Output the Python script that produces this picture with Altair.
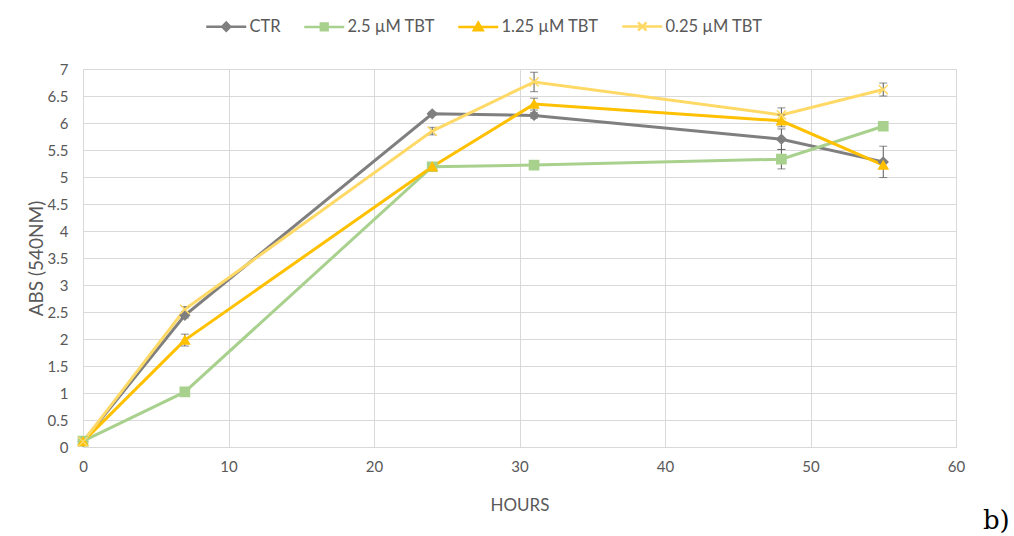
import altair as alt
import pandas as pd

hours = [0, 7, 24, 31, 48, 55]
series_names = ["CTR", "2.5 µM TBT", "1.25 µM TBT", "0.25 µM TBT"]

abs_ctr = [0.10, 2.44, 6.17, 6.14, 5.70, 5.28]
abs_25 = [0.11, 1.02, 5.19, 5.22, 5.33, 5.94]
abs_125 = [0.10, 1.98, 5.19, 6.35, 6.04, 5.22]
abs_025 = [0.10, 2.55, 5.85, 6.76, 6.15, 6.62]

err_ctr = [0.02, 0.05, 0.03, 0.05, 0.19, 0.29]
err_25 = [0.02, 0.03, 0.03, 0.03, 0.18, 0.03]
err_125 = [0.02, 0.11, 0.03, 0.11, 0.11, 0.05]
err_025 = [0.02, 0.05, 0.07, 0.18, 0.13, 0.12]

x_ticks = [0, 10, 20, 30, 40, 50, 60]
y_ticks = [0, 0.5, 1, 1.5, 2, 2.5, 3, 3.5, 4, 4.5, 5, 5.5, 6, 6.5, 7]

series_values = [abs_ctr, abs_25, abs_125, abs_025]
series_errors = [err_ctr, err_25, err_125, err_025]

colors = ["#7F7F7F", "#A9D18E", "#FFC000", "#FFD966"]
point_shapes = ["diamond", "square", "triangle-up", "M-1,-1L1,1M-1,1L1,-1"]
legend_shapes = [
    "M-5,0H5M0,-1L1,0L0,1L-1,0Z",
    "M-5,0H5M-0.85,-0.85H0.85V0.85H-0.85Z",
    "M-5,0H5M0,-1.05L1.1,0.85H-1.1Z",
    "M-5,0H5M-1.05,-1.05L1.05,1.05M-1.05,1.05L1.05,-1.05",
]

rows = []
for i, (name, vals, errs) in enumerate(zip(series_names, series_values, series_errors)):
    for h, v, e in zip(hours, vals, errs):
        rows.append({"hours": h, "abs": v, "lo": v - e, "hi": v + e,
                     "series": name, "order": i})
df = pd.DataFrame(rows)

FONT = "Lato"
TXT = "#595959"

x_axis = alt.Axis(values=x_ticks, title="HOURS",
                  grid=True, gridColor="#D9D9D9", ticks=False,
                  domainColor="#D9D9D9", labelColor=TXT,
                  labelFont=FONT, labelFontSize=15, labelPadding=12,
                  labelFlush=False, labelOverlap=False,
                  titleFont=FONT, titleFontSize=17, titleFontWeight="normal",
                  titleColor=TXT, titlePadding=23)
y_axis = alt.Axis(values=y_ticks, title="ABS (540NM)", format="~g",
                  grid=True, gridColor="#D9D9D9", ticks=False,
                  domain=False, labelColor=TXT,
                  labelFont=FONT, labelFontSize=15, labelPadding=15,
                  labelFlush=False, labelOverlap=False,
                  titleFont=FONT, titleFontSize=19, titleFontWeight="normal",
                  titleColor=TXT, titlePadding=1)
x_scale = alt.Scale(domain=[0, 60], nice=False)
y_scale = alt.Scale(domain=[0, 7], nice=False)


def X(field):
    return alt.X(field, scale=x_scale, axis=x_axis)


def Y(field):
    return alt.Y(field, scale=y_scale, axis=y_axis)


color_scale = alt.Scale(domain=series_names, range=colors)

base = alt.Chart(df)

lines = base.mark_line(strokeWidth=3).encode(
    x=X("hours:Q"), y=Y("abs:Q"),
    color=alt.Color("series:N", scale=color_scale, legend=None),
    order=alt.Order("hours:Q"),
)

err_rule = base.mark_rule(strokeWidth=1, color="#595959").encode(
    x=X("hours:Q"), y=Y("lo:Q"), y2="hi:Q")
err_lo = base.mark_tick(orient="horizontal", size=8, thickness=1, color="#595959").encode(
    x=X("hours:Q"), y=Y("lo:Q"))
err_hi = base.mark_tick(orient="horizontal", size=8, thickness=1, color="#595959").encode(
    x=X("hours:Q"), y=Y("hi:Q"))

points = base.mark_point(filled=True, size=85, strokeWidth=1.5, opacity=1).encode(
    x=X("hours:Q"), y=Y("abs:Q"),
    color=alt.Color("series:N", scale=color_scale, legend=None),
    stroke=alt.Stroke("series:N", scale=color_scale, legend=None),
    shape=alt.Shape("series:N", scale=alt.Scale(domain=series_names, range=point_shapes),
                    legend=None),
)

leg = alt.Legend(orient="none", legendX=135, legendY=-51, direction="horizontal",
                 title=None, symbolSize=64, symbolStrokeWidth=2.5, symbolOpacity=1,
                 labelFont=FONT, labelFontSize=16.5, labelColor=TXT, labelOffset=15,
                 columnPadding=18)

legend_layer = base.mark_point(filled=True, opacity=0, size=64).encode(
    x=X("hours:Q"), y=Y("abs:Q"),
    color=alt.Color("series:N", scale=color_scale, legend=leg),
    stroke=alt.Stroke("series:N", scale=color_scale, legend=leg),
    shape=alt.Shape("series:N", scale=alt.Scale(domain=series_names, range=legend_shapes),
                    legend=leg),
)

chart = alt.layer(lines, err_rule, err_lo, err_hi, points, legend_layer).resolve_scale(
    color="independent", stroke="independent", shape="independent"
).properties(
    width=873, height=378,
    autosize=alt.AutoSizeParams(type="none"),
    padding={"left": 83, "top": 69, "right": 58, "bottom": 89},
    title=alt.TitleParams("b)", orient="bottom", anchor="end", font="DejaVu Serif",
                          fontSize=26, fontWeight="normal", color="black", dx=45, offset=-5),
).configure_view(stroke=None).configure(background="white")

chart.save("out.html", embed_options={"renderer": "svg", "actions": False})
